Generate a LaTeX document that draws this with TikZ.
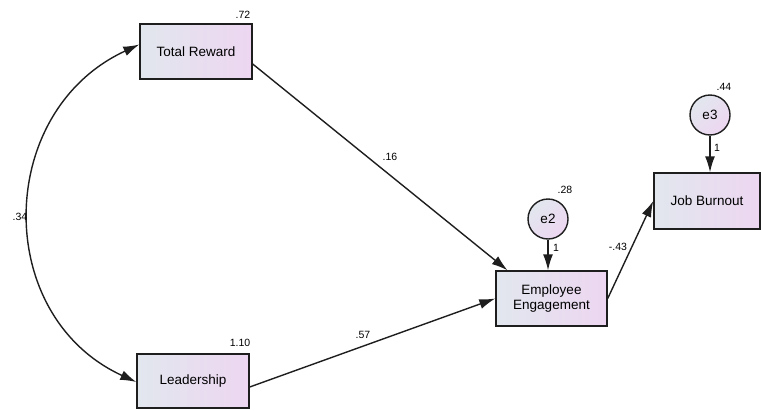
\documentclass[tikz,border=0pt]{standalone}
\usepackage{fontspec}
\setmainfont{Liberation Sans}
\usetikzlibrary{arrows.meta}
\definecolor{boxL}{RGB}{226,231,238}
\definecolor{boxR}{RGB}{237,214,241}
\definecolor{lineC}{RGB}{30,30,30}
\tikzset{
  var/.style={draw=lineC, line width=1.4pt, left color=boxL, right color=boxR,
    inner sep=0pt, font=\fontsize{13.5}{15.5}\selectfont, align=center},
  err/.style={circle, draw=lineC, line width=1.4pt, shading=axis, left color=boxL, right color=boxR, shading angle=45,
    minimum size=40pt, inner sep=0pt, font=\fontsize{13.5}{15.5}\selectfont},
  lab/.style={font=\fontsize{10.5}{12}\selectfont, inner sep=0pt},
  path/.style={draw=lineC, line width=1.4pt, -{Latex[length=16pt,width=10pt]}},
  cov/.style={draw=lineC, line width=1.4pt, {Latex[length=16pt,width=10pt]}-{Latex[length=16pt,width=10pt]}}
}
\begin{document}
\begin{tikzpicture}[x=1pt,y=-1pt]
\useasboundingbox (0,0) rectangle (761,410);
\node[var, minimum width=112pt, minimum height=55pt] (TR) at (196,51.5) {Total Reward};
\node[var, minimum width=112pt, minimum height=54pt] (L) at (193,381) {Leadership};
\node[var, minimum width=111pt, minimum height=55pt] (EE) at (551.5,298.5) {Employee\\Engagement};
\node[var, minimum width=106pt, minimum height=56pt] (JB) at (707,201) {Job Burnout};
\node[err] (e2) at (548,219) {e2};
\node[err] (e3) at (710,115) {e3};

\draw[path] ([yshift=-12.5pt]TR.east) -- ([xshift=-44pt]EE.north);
\draw[path] ([yshift=-6pt]L.east) -- (EE.west);
\draw[path] (EE.east) -- (JB.west);
\draw[path] (e2) -- (e2 |- EE.north);
\draw[path] (e3) -- (e3 |- JB.north);
\draw[cov] ([yshift=7pt]TR.west) .. controls (-5,111) and (-8,316) .. ([yshift=-1pt]L.west);

\node[lab] (l72) at (243,15) {.72};
\node[lab] (l110) at (240,343) {1.10};
\node[lab] (l16) at (390,157) {.16};
\node[lab] (l57) at (363,335) {.57};
\node[lab] (l34) at (20,217) {.34};
\node[lab] (l28) at (565,190) {.28};
\node[lab] (l1a) at (556,248) {1};
\node[lab] (l43) at (618,247) {-.43};
\node[lab] (l44) at (724,87) {.44};
\node[lab] (l1b) at (717,148) {1};
\end{tikzpicture}
\end{document}
